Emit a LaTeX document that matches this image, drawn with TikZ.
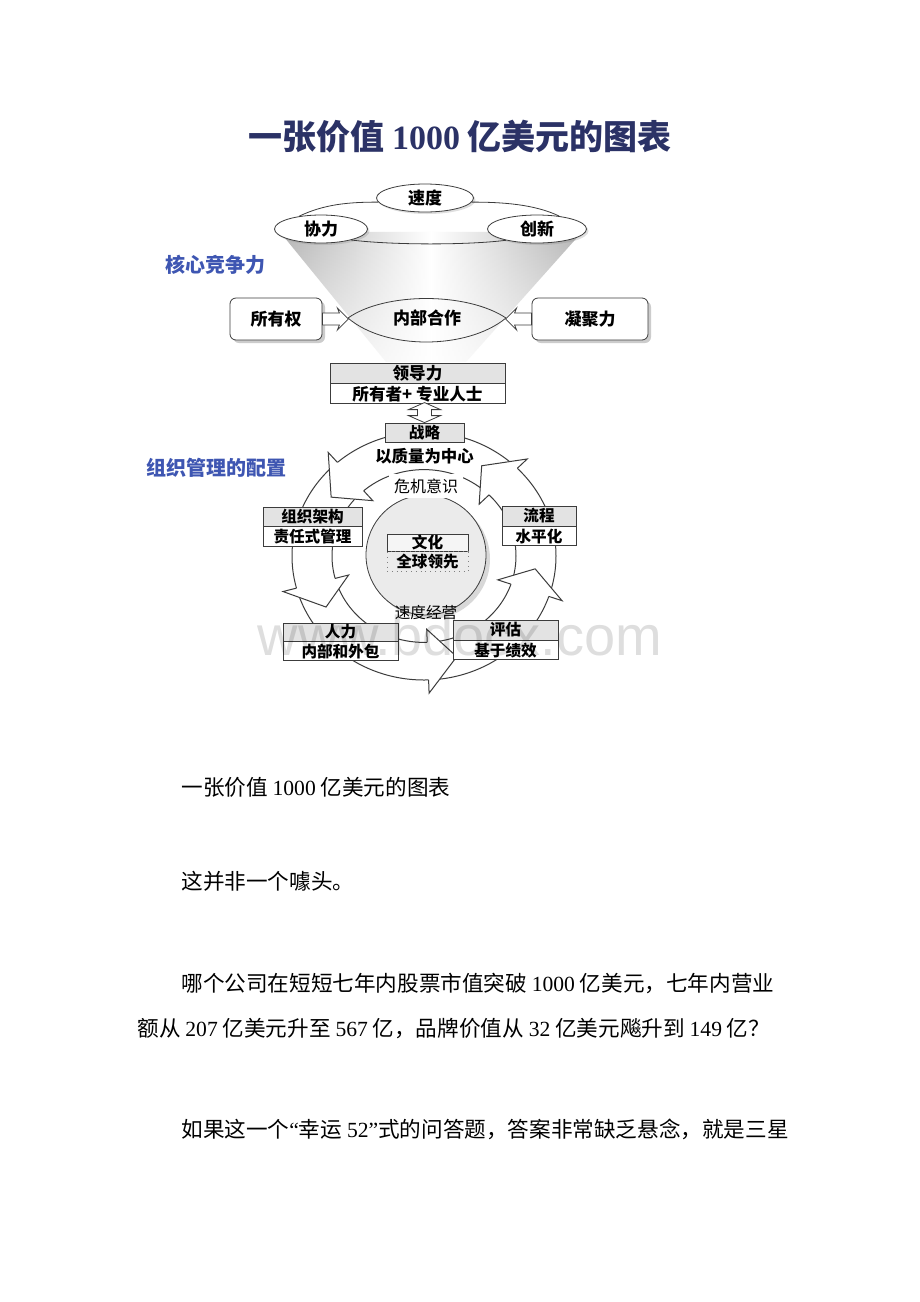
\documentclass[tikz,border=0pt]{standalone}
\usepackage{fontspec}
\setmainfont{Noto Sans CJK SC}
\newfontfamily\latin{Liberation Serif}
\newfontfamily\webfont{Liberation Sans}
\usetikzlibrary{positioning, shapes.geometric, shadows, fadings}

\definecolor{titleblue}{RGB}{43,50,102}
\definecolor{labelblue}{RGB}{62,86,178}
\definecolor{linegray}{RGB}{60,60,60}

\tikzfading[name=funnelfade, top color=transparent!0, bottom color=transparent!70]

\begin{document}
\begin{tikzpicture}[x=0.5pt, y=-0.5pt]

\tikzset{oval/.style = {ellipse, draw=linegray, fill=white, minimum height=14pt, inner sep=0pt, font=\bfseries\fontsize{8.5}{10}\selectfont, drop shadow={shadow xshift=1pt, shadow yshift=-1pt, opacity=0.25}}}
\tikzset{sidebox/.style = {draw=linegray, fill=white, rounded corners=3pt, minimum height=21pt, font=\bfseries\fontsize{8.5}{10}\selectfont, drop shadow={shadow xshift=1.5pt, shadow yshift=-1.5pt, opacity=0.4}}}
\tikzset{headrow/.style = {draw=linegray, fill=gray!22, minimum height=10pt, inner sep=0pt, font=\bfseries\fontsize{7.8}{9}\selectfont}}
\tikzset{subrow/.style = {headrow, fill=white}}
\tikzset{ringline/.style = {draw=linegray, line width=0.5pt}}
\tikzset{plain/.style = {font=\fontsize{10.8}{13}\selectfont, anchor=west, inner sep=0pt}}

\useasboundingbox (0,0) rectangle (920,1302);
\fill[white] (0,0) rectangle (920,1302);

\node[text=titleblue, font=\bfseries\fontsize{17}{20}\selectfont] (title) at (460,137) {一张价值 {\latin\bfseries 1000} 亿美元的图表};

%funnel
\shade[left color=gray!60, right color=gray!60, middle color=white, path fading=funnelfade] (280,232) -- (582,232) -- (466,362) -- (386,362) -- cycle;

\node[oval, minimum width=48.5pt] (speed) at (425,198) {速度};
\node[oval, minimum width=46.5pt] (synergy) at (321,229) {协力};
\node[oval, minimum width=49.5pt] (innov) at (537,229) {创新};
\draw[linegray] (synergy.150) .. controls +(25,-12) and +(-30,0) .. (speed.185);
\draw[linegray] (speed.-5) .. controls +(30,0) and +(-25,-12) .. (innov.30);
\draw[linegray] (synergy.-20) .. controls +(40,5) and +(-40,5) .. (innov.200);

\coordinate (lensl) at (348,318);
\coordinate (lensr) at (506,318);
\draw[linegray] (lensl) .. controls (385,292) and (467,292) .. (lensr) .. controls (467,350) and (385,350) .. (lensl);
\node[font=\bfseries\fontsize{8.5}{10}\selectfont] (coop) at (427,318) {内部合作};

\node[sidebox, minimum width=46pt] (own) at (276,319) {所有权};
\node[sidebox, minimum width=58pt] (cohesion) at (590,319) {凝聚力};
\draw[linegray, fill=white] ([yshift=3pt]own.east) -- ++(17,0) -- ++(-2,-5) -- ++(11,11) -- ++(-11,11) -- ++(2,-5) -- ++(-17,0) -- cycle;
\draw[linegray, fill=white] ([yshift=3pt]cohesion.west) -- ++(-17,0) -- ++(2,-5) -- ++(-11,11) -- ++(11,11) -- ++(-2,-5) -- ++(17,0) -- cycle;

\node[headrow, minimum width=87.5pt, font=\bfseries\fontsize{8.3}{10}\selectfont] (lead) at (417.5,373) {领导力};
\node[subrow, minimum width=87.5pt, font=\bfseries\fontsize{8.3}{10}\selectfont, below=0pt of lead] (leadsub) {所有者+ 专业人士};

%ring
\coordinate (ringc) at (424,556);
\draw[ringline, fill=white] (ringc) ellipse [x radius=66pt, y radius=62pt];
\draw[ringline] (ringc) ellipse [x radius=46pt, y radius=43.2pt];
\begin{scope}[shift={(ringc)}, yscale=-0.94]
\foreach \a/\t in {131/146, 195/209, 272/287, 341/353, 45/59} {
  \fill[white] (\a:132) -- (\a:146) -- (\t:112) -- (\a:78) -- (\a:92) -- cycle;
  \draw[ringline] (\a:132) -- (\a:146) -- (\t:112) -- (\a:78) -- (\a:92);
}
\end{scope}

\node[circle, draw=linegray, fill=gray!16, minimum size=60pt, inner sep=0pt, drop shadow={shadow xshift=2pt, shadow yshift=-2pt, opacity=0.3}] (cult) at (426,555) {};
\node[headrow, fill=gray!8, minimum width=40.5pt, minimum height=8.5pt] (culture) at (427.5,542.5) {文化};
\node[subrow, draw=gray, dotted, fill=gray!16, minimum width=40.5pt, below=0pt of culture] (culturesub) {全球领先};

\node[headrow, minimum width=39.5pt, minimum height=9.5pt] (strat) at (424.5,432.5) {战略};
\node[subrow, draw=none, minimum width=50pt, minimum height=13pt, font=\bfseries\fontsize{8.2}{10}\selectfont, below=0pt of strat] (stratsub) {以质量为中心};
\draw[linegray, fill=white] (strat.north) -- ++(-16,-7) -- ++(9,0) -- ++(0,-6) -- ++(-9,0) -- ++(16,-7) -- ++(16,7) -- ++(-9,0) -- ++(0,6) -- ++(9,0) -- cycle;

\node[headrow, minimum width=49.5pt, minimum height=9.5pt] (org) at (312.5,516.5) {组织架构};
\node[subrow, minimum width=49.5pt, below=0pt of org] (orgsub) {责任式管理};
\node[headrow, minimum width=57.5pt, minimum height=9pt] (people) at (340.5,632) {人力};
\node[subrow, minimum width=57.5pt, minimum height=9.5pt, below=0pt of people] (peoplesub) {内部和外包};
\node[headrow, minimum width=37pt] (process) at (539,516) {流程};
\node[subrow, minimum width=37pt, minimum height=9.5pt, below=0pt of process] (processsub) {水平化};
\node[headrow, minimum width=52.5pt] (eval) at (505.5,630) {评估};
\node[subrow, minimum width=52.5pt, minimum height=9.5pt, below=0pt of eval] (evalsub) {基于绩效};

\node[fill=white, inner sep=2.5pt, font=\fontsize{8}{10}\selectfont] (crisis) at (426,486) {危机意识};
\node[inner sep=0pt, font=\fontsize{7.8}{9}\selectfont] (pace) at (426,613) {速度经营};

\node[text=labelblue, font=\bfseries\fontsize{10}{12}\selectfont] (core) at (215,265) {核心竞争力};
\node[text=labelblue, font=\bfseries\fontsize{10}{12}\selectfont] (config) at (216,468) {组织管理的配置};

%text
\node[plain] (p1) at (181,787) {一张价值 {\latin 1000} 亿美元的图表};
\node[plain] (p2) at (181,881) {这并非一个噱头。};
\node[plain] (p3) at (181,983) {哪个公司在短短七年内股票市值突破 {\latin 1000} 亿美元，七年内营业};
\node[plain] (p4) at (137,1029) {额从 {\latin 207} 亿美元升至 {\latin 567} 亿，品牌价值从 {\latin 32} 亿美元飚升到 {\latin 149} 亿？};
\node[plain] (p5) at (181,1129) {如果这一个{\latin “}幸运 {\latin 52”}式的问答题，答案非常缺乏悬念，就是三星};

\node[text=black, text opacity=0.13, font=\webfont\fontsize{28}{30}\selectfont] (mark) at (460,635) {www.bdocx.com};

\end{tikzpicture}
\end{document}
